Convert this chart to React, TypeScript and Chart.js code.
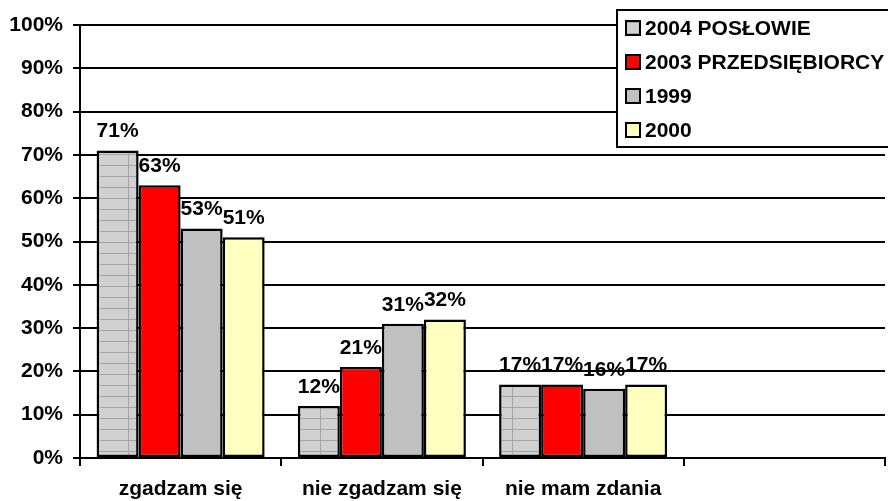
import React, { useEffect, useRef } from "react";
import { Chart, registerables } from "chart.js";

Chart.register(...registerables);

const categories = ["zgadzam się", "nie zgadzam się", "nie mam zdania", ""];
const seriesLabels = ["2004 POSŁOWIE", "2003 PRZEDSIĘBIORCY", "1999", "2000"];
const poslowie2004 = [71, 12, 17, null];
const przedsiebiorcy2003 = [63, 21, 17, null];
const values1999 = [53, 31, 16, null];
const values2000 = [51, 32, 17, null];
const yTicks = [0, 10, 20, 30, 40, 50, 60, 70, 80, 90, 100];

const FONT_FAMILY = '"Liberation Sans", Arial, sans-serif';
const FONT_SIZE = 21;

function makePattern(): CanvasPattern | string {
  const c = document.createElement("canvas");
  c.width = 48;
  c.height = 11;
  const g = c.getContext("2d");
  if (!g) return "#cfcfcf";
  g.fillStyle = "#d0d0d0";
  g.fillRect(0, 0, 48, 11);
  g.strokeStyle = "#a4a4a4";
  g.lineWidth = 1;
  g.beginPath();
  g.moveTo(32.5, 0);
  g.lineTo(32.5, 11);
  g.moveTo(0, 0.5);
  g.lineTo(48, 0.5);
  g.stroke();
  return g.createPattern(c, "repeat") || "#cfcfcf";
}

const dataLabelsPlugin = {
  id: "dataLabels",
  afterDatasetsDraw(chart: any) {
    const ctx = chart.ctx;
    ctx.save();
    ctx.font = `bold ${FONT_SIZE}px ${FONT_FAMILY}`;
    ctx.fillStyle = "#000";
    ctx.textAlign = "center";
    ctx.textBaseline = "middle";
    chart.data.datasets.forEach((ds: any, i: number) => {
      const meta = chart.getDatasetMeta(i);
      meta.data.forEach((el: any, j: number) => {
        const v = ds.data[j];
        if (v === null || v === undefined) return;
        ctx.fillText(`${v}%`, el.x, el.y - 19);
      });
    });
    ctx.restore();
  },
};

const legendPlugin = {
  id: "boxLegend",
  afterDraw(chart: any) {
    const ctx = chart.ctx;
    ctx.save();
    const left = 617;
    const top = 10;
    const w = 300;
    const h = 137;
    ctx.fillStyle = "#fff";
    ctx.fillRect(left, top, w, h);
    ctx.strokeStyle = "#000";
    ctx.lineWidth = 2;
    ctx.strokeRect(left, top, w, h);
    ctx.font = `bold ${FONT_SIZE}px ${FONT_FAMILY}`;
    ctx.textAlign = "left";
    ctx.textBaseline = "middle";
    chart.data.datasets.forEach((ds: any, i: number) => {
      const cy = 28 + i * 34;
      ctx.fillStyle = ds.backgroundColor;
      ctx.fillRect(626, cy - 7, 14, 14);
      ctx.lineWidth = 2;
      ctx.strokeStyle = "#000";
      ctx.strokeRect(626, cy - 7, 14, 14);
      ctx.fillStyle = "#000";
      ctx.fillText(ds.label, 645, cy + 1);
    });
    ctx.restore();
  },
};

export default function App() {
  const ref = useRef<HTMLCanvasElement | null>(null);

  useEffect(() => {
    document.body.style.margin = "0";
    const canvas = ref.current;
    if (!canvas) return;
    const pattern = makePattern();
    const colors = [pattern, "#ff0000", "#c0c0c0", "#ffffc0"];
    const seriesData = [poslowie2004, przedsiebiorcy2003, values1999, values2000];

    const chart = new Chart(canvas, {
      type: "bar",
      data: {
        labels: categories,
        datasets: seriesLabels.map((label, i) => ({
          label,
          data: seriesData[i] as any,
          backgroundColor: colors[i] as any,
          borderColor: "#000",
          borderWidth: 2.5,
          borderSkipped: false,
          categoryPercentage: 0.835,
          barPercentage: 1,
        })),
      },
      options: {
        responsive: false,
        animation: false,
        devicePixelRatio: 1,
        layout: { padding: { top: 25, right: 3, left: 0, bottom: 0 } },
        plugins: {
          legend: { display: false },
          tooltip: { enabled: false },
          title: { display: false },
        },
        scales: {
          x: {
            grid: {
              display: true,
              drawOnChartArea: false,
              drawTicks: true,
              tickLength: 8,
              offset: true,
              color: "#000",
              lineWidth: 2,
            },
            border: { display: true, color: "#000", width: 2 },
            ticks: {
              color: "#000",
              font: { family: FONT_FAMILY, size: FONT_SIZE, weight: "bold" },
              padding: 11,
              maxRotation: 0,
              autoSkip: false,
            },
            afterFit(scale: any) {
              scale.height = 43;
            },
          },
          y: {
            min: 0,
            max: 100,
            afterBuildTicks(scale: any) {
              scale.ticks = yTicks.map((v) => ({ value: v }));
            },
            grid: {
              color: "#000",
              lineWidth: 2,
              drawTicks: true,
              tickLength: 7,
            },
            border: { display: true, color: "#000", width: 2 },
            ticks: {
              color: "#000",
              font: { family: FONT_FAMILY, size: FONT_SIZE, weight: "bold" },
              padding: 10,
              callback: (v: any) => `${v}%`,
            },
            afterFit(scale: any) {
              scale.width = 80;
            },
          },
        },
      },
      plugins: [dataLabelsPlugin, legendPlugin],
    });

    return () => chart.destroy();
  }, []);

  return (
    <div style={{ width: 888, height: 501, background: "#fff" }}>
      <canvas ref={ref} width={888} height={501} />
    </div>
  );
}
